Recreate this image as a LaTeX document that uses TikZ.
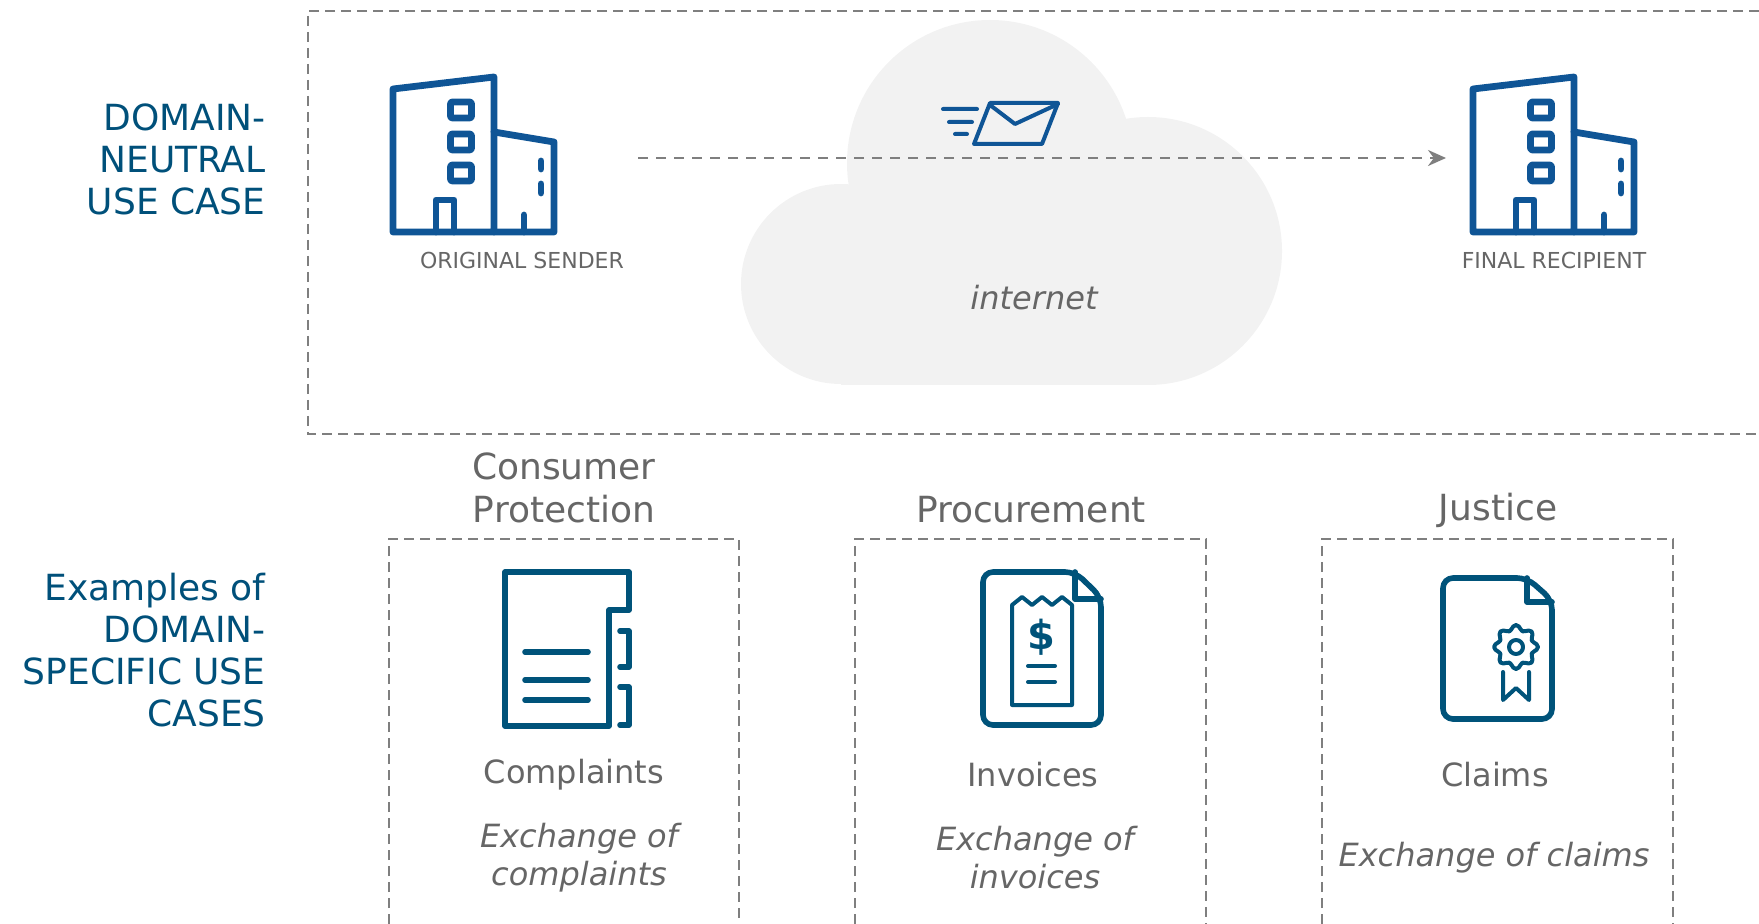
\documentclass[tikz,border=0pt]{standalone}
\usepackage{fontspec}
\setmainfont{DejaVu Sans}
\usetikzlibrary{arrows.meta}

\definecolor{headblue}{HTML}{00507A}
\definecolor{iconblue}{HTML}{00537A}
\definecolor{bldblue}{HTML}{0F5596}
\definecolor{textgrey}{HTML}{666666}
\definecolor{dashgrey}{HTML}{7F7F7F}
\definecolor{cloudgrey}{HTML}{F2F2F2}

\tikzset{
  headlabel/.style={text=headblue, font=\fontsize{18}{21}\selectfont, align=right, anchor=east, inner sep=0},
  domainlabel/.style={text=textgrey, font=\fontsize{18}{21.5}\selectfont, align=center, inner sep=0},
  doclabel/.style={text=textgrey, font=\fontsize{16}{19}\selectfont, align=center, inner sep=0},
  usagelabel/.style={text=textgrey, font=\fontsize{16}{19}\selectfont\itshape, align=center, inner sep=0},
  partylabel/.style={text=textgrey, font=\fontsize{11}{13}\selectfont, inner sep=0},
  dashbox/.style={draw=dashgrey, line width=1.2pt, dash pattern=on 5pt off 3pt},
  bldline/.style={draw=bldblue, line width=3.4pt, line join=round, line cap=round},
  iconline/.style={draw=iconblue, line width=2.8pt, line join=round, line cap=round},
  thinline/.style={draw=iconblue, line width=2pt, line join=round, line cap=round},
  building/.pic={
    \draw[bldline] (393,232) -- (393,89) -- (494,77) -- (494,232) -- cycle;
    \draw[bldline] (494,132) -- (554,142) -- (554,232) -- (494,232);
    \foreach \wy in {102,134,165}
      \draw[bldline, rounded corners=1pt] (450.5,\wy) rectangle (471.5,\wy+16);
    \draw[bldline] (436,232) -- (436,200) -- (454,200) -- (454,232);
    \draw[bldline] (541,161) -- (541,169);
    \draw[bldline] (541,184) -- (541,193);
    \draw[bldline] (524,215) -- (524,232);
  }
}

\begin{document}
\begin{tikzpicture}[x=0.5pt, y=-0.5pt]
\useasboundingbox (0,0) rectangle (1759,924);

% cloud
\fill[cloudgrey] (990,163) circle (143);
\fill[cloudgrey] (841,284) circle (100);
\fill[cloudgrey] (1148,251) circle (134);
\fill[cloudgrey] (841,200) rectangle (1148,385);

% boxes
\draw[dashbox] (1759,11) -- (308,11) -- (308,434) -- (1759,434);
\draw[dashbox] (389,924) -- (389,539) -- (739,539) -- (739,924);
\draw[dashbox] (855,924) -- (855,539) -- (1206,539) -- (1206,924);
\draw[dashbox] (1322,924) -- (1322,539) -- (1673,539) -- (1673,924);

% left labels
\node[headlabel] (neutral) at (266,159) {DOMAIN-\\NEUTRAL\\USE CASE};
\node[headlabel] (specific) at (266,650) {Examples of\\DOMAIN-\\SPECIFIC USE\\CASES};

% top row
\pic (sender) at (0,0) {building};
\pic (recipient) at (1080,0) {building};
\node[partylabel] (senderlabel) at (522,260) {ORIGINAL SENDER};
\node[partylabel] (recipientlabel) at (1554,260) {FINAL RECIPIENT};
\node[usagelabel] (internet) at (1034,298) {internet};

\coordinate (arrowstart) at (638,158);
\coordinate (arrowend) at (1446,158);
\draw[draw=dashgrey, line width=1.2pt, dash pattern=on 5pt off 4pt, -{Stealth[length=9pt,width=8pt]}] (arrowstart) -- (arrowend);

% envelope
\draw[draw=bldblue, line width=2pt, line join=round, line cap=round]
  (990,103) -- (1058,103) -- (1042,144) -- (974,144) -- cycle
  (990,105) -- (1015,124) -- (1058,104)
  (943,109) -- (977,109) (949,122) -- (972,122) (955,134) -- (967,134);

% domains
\node[domainlabel] (consumer) at (564,488) {Consumer\\Protection};
\node[domainlabel] (procurement) at (1031,510) {Procurement};
\node[domainlabel] (justice) at (1498,510) {Justice};

% complaints icon
\draw[iconline] (505,726) -- (505,572) -- (629,572) -- (629,610) -- (609,610) -- (609,726) -- cycle;
\foreach \ly in {652,680,700}
  \draw[iconline] (525,\ly) -- (588,\ly);
\draw[iconline] (620,631) -- (629,631) -- (629,667) -- (620,667);
\draw[iconline] (620,687) -- (629,687) -- (629,725) -- (620,725);

% invoice icon
\draw[iconline, rounded corners=5pt] (983,725) -- (983,572) -- (1075,572) -- (1101,597) -- (1101,725) -- cycle;
\draw[iconline] (1075,572) -- (1075,599) -- (1101,599);
\draw[thinline] (1072,705) -- (1012,705) -- (1012,605) -- (1022,597) -- (1032,605) -- (1042,597) -- (1052,605) -- (1062,597) -- (1072,605) -- cycle;
\node[text=iconblue, inner sep=0, font=\fontsize{20}{20}\selectfont\bfseries] (dollar) at (1041,637) {\$};
\draw[thinline] (1028,666) -- (1055,666);
\draw[thinline] (1028,682) -- (1055,682);

% claims icon
\draw[iconline, rounded corners=5pt] (1443,719) -- (1443,578) -- (1527,578) -- (1552,600) -- (1552,719) -- cycle;
\draw[iconline] (1527,578) -- (1527,602) -- (1552,602);
\draw[thinline] plot[smooth cycle, samples=48, domain=0:352.5] ({1516+(19.5+2.5*cos(8*\x))*cos(\x)}, {647+(19.5+2.5*cos(8*\x))*sin(\x)});
\draw[thinline] (1516,647) circle (7);
\draw[thinline] (1503,672) -- (1503,700) -- (1516,688) -- (1529,700) -- (1529,672);

% doc labels
\node[doclabel] (complaints) at (574,775) {Complaints};
\node[doclabel] (invoices) at (1033,775) {Invoices};
\node[doclabel] (claims) at (1495,775) {Claims};
\node[usagelabel] (exchcomplaints) at (579,858) {Exchange of\\complaints};
\node[usagelabel] (exchinvoices) at (1035,858) {Exchange of\\invoices};
\node[usagelabel] (exchclaims) at (1494,858) {Exchange of claims};
\end{tikzpicture}
\end{document}
